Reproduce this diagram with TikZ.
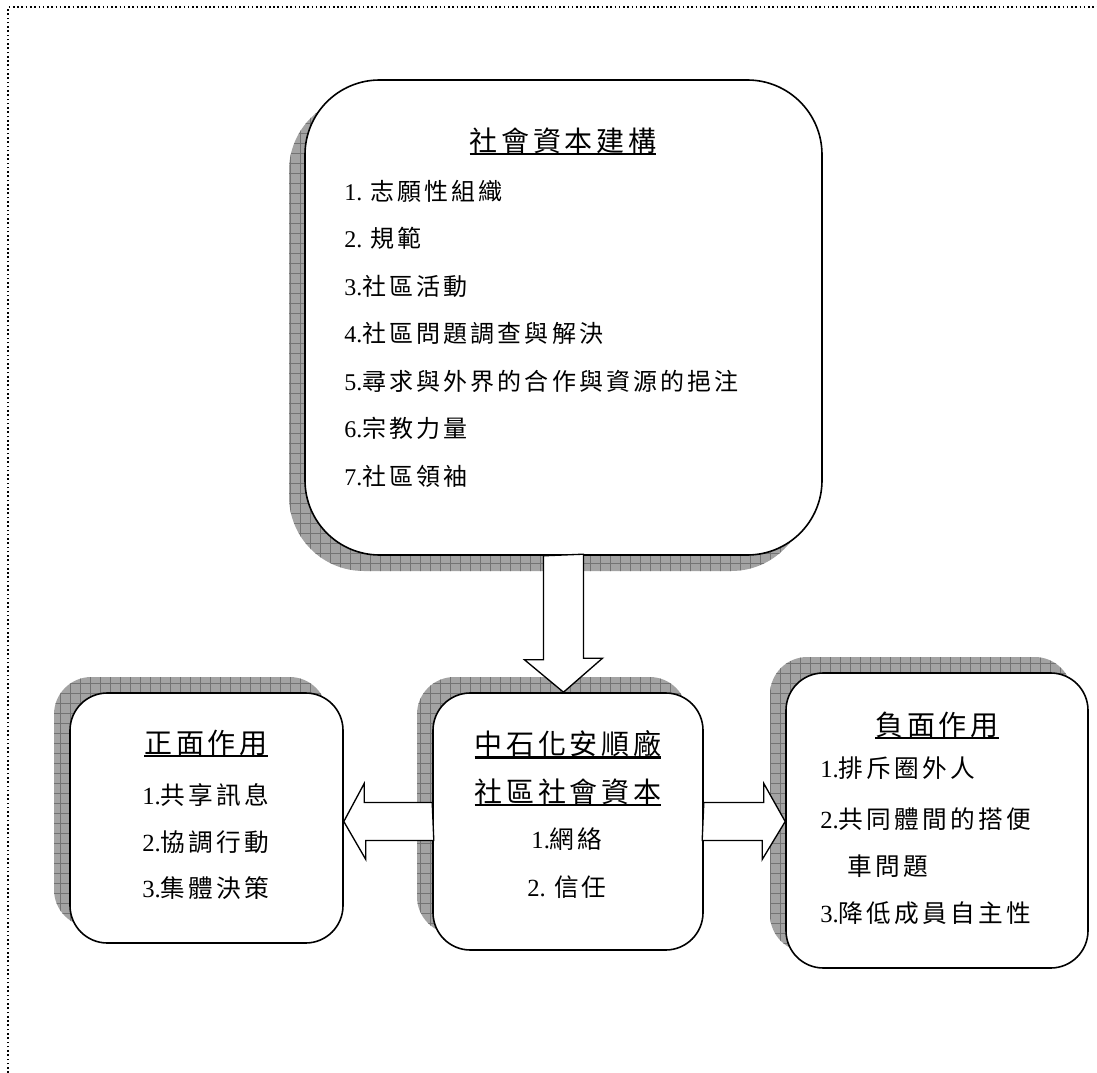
\documentclass[tikz,border=0pt]{standalone}
\usepackage{fontspec}
\setmainfont{Liberation Serif}
\newfontfamily\cjkbig[LetterSpace=13]{Noto Sans CJK TC}
\newfontfamily\cjk[LetterSpace=13]{Noto Sans CJK TC}
\usetikzlibrary{calc,shadows,patterns.meta}
\newcommand\nr[1]{{\rmfamily #1}}

\tikzset{
  box/.style={draw, line width=1.2pt, fill=white, rounded corners=28pt},
  grid shade/.style={
    general shadow={shadow xshift=-12pt, shadow yshift=#1, fill=black!36},
    general shadow={shadow xshift=-12pt, shadow yshift=#1,
      pattern={Hatch[distance=7.5pt,angle=0,line width=.5pt]}, pattern color=black!55}},
  head/.style={font=\fontsize{21}{25}\selectfont\cjkbig, inner sep=0pt},
  uline/.style={line width=1.8pt},
  item/.style={font=\fontsize{18}{21}\selectfont\cjk, anchor=west, inner sep=0pt},
  lowitem/.style={item, font=\fontsize{18.5}{22}\selectfont\cjk},
  bigarrow/.style={draw, line width=1pt, fill=white, line join=miter},
}

\begin{document}
\begin{tikzpicture}[x=0.75pt,y=-0.75pt]
\useasboundingbox (0,0) rectangle (1097,1073);
\draw[dotted, line width=1.2pt] (8,1073) -- (8,7) -- (1097,7);

% boxes
\node[box, grid shade=-12pt, rounded corners=56pt, minimum width=387.75pt, minimum height=356.25pt] (build) at (563.5,317.5) {};
\node[box, grid shade=12pt, minimum width=204.75pt, minimum height=187.5pt] (pos) at (206.5,818) {};
\node[box, grid shade=12pt, minimum width=202.5pt, minimum height=192.75pt] (core) at (568,821.5) {};
\node[box, grid shade=12pt, minimum width=226.5pt, minimum height=221.25pt] (neg) at (937,820.5) {};

% top box
\node[head] (buildT) at (563,141) {社會資本建構};
\draw[uline] (buildT.south west) -- (buildT.south east);
\node[item] (b1) at (344,191) {\nr{1. }志願性組織};
\node[item] (b2) at (344,238.5) {\nr{2. }規範};
\node[item] (b3) at (344,286) {\nr{3.}社區活動};
\node[item] (b4) at (344,333.5) {\nr{4.}社區問題調查與解決};
\node[item] (b5) at (344,381) {\nr{5.}尋求與外界的合作與資源的挹注};
\node[item] (b6) at (344,428.5) {\nr{6.}宗教力量};
\node[item] (b7) at (344,476) {\nr{7.}社區領袖};

% left box
\node[head] (posT) at (206,743) {正面作用};
\draw[uline] (posT.south west) -- (posT.south east);
\node[lowitem] (p1) at (142,795) {\nr{1.}共享訊息};
\node[lowitem] (p2) at (142,842) {\nr{2.}協調行動};
\node[lowitem] (p3) at (142,888) {\nr{3.}集體決策};

% center box
\node[head] (coreT) at (568,744) {中石化安順廠};
\draw[uline] (coreT.south west) -- (coreT.south east);
\node[head] (coreS) at (568,792) {社區社會資本};
\draw[uline] (coreS.south west) -- (coreS.south east);
\node[lowitem, anchor=center] (c1) at (567,839) {\nr{1.}網絡};
\node[lowitem, anchor=center] (c2) at (567,887) {\nr{2. }信任};

% right box
\node[head] (negT) at (937,725) {負面作用};
\draw[uline] (negT.south west) -- (negT.south east);
\node[lowitem] (n1) at (820,768) {\nr{1.}排斥圈外人};
\node[lowitem] (n2) at (820,819) {\nr{2.}共同體間的搭便};
\node[lowitem] (n3) at (847,866) {車問題};
\node[lowitem] (n4) at (820,913) {\nr{3.}降低成員自主性};

% block arrows
\draw[bigarrow] (build.south) ++(-20,0) -- ++(0,104) -- ++(-19,0) -- (build.south |- core.north) -- ++(39,-34) -- ++(-19,0) -- ++(0,-104) -- cycle;
\draw[bigarrow] (core.west) ++(0,-19) -- ++(-68,0) -- ++(0,-19) -- (pos.east |- core.west) -- ++(22,38) -- ++(0,-19) -- ++(68,0) -- cycle;
\draw[bigarrow] (core.east) ++(0,-19) -- ++(60,0) -- ++(0,-19) -- (neg.west |- core.east) -- ++(-23,38) -- ++(0,-19) -- ++(-60,0) -- cycle;
\end{tikzpicture}
\end{document}
